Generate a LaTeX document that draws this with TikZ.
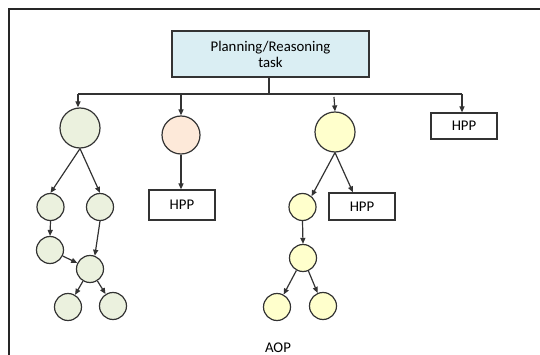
\documentclass[tikz,border=0pt]{standalone}
\usepackage{fontspec}
\setmainfont{Carlito}
\usetikzlibrary{arrows.meta,calc}
\definecolor{taskblue}{HTML}{DAEEF3}
\definecolor{aopgreen}{HTML}{EBF1DE}
\definecolor{aoppink}{HTML}{FDE9D9}
\definecolor{aopyellow}{HTML}{FFFFCC}
\definecolor{edgegray}{HTML}{333333}
\begin{document}
\begin{tikzpicture}[x=1pt,y=-1pt,line width=1.2pt,
  font=\fontsize{14.8}{16}\selectfont,
  arr/.style={-{Triangle[length=6pt,width=5pt]},draw=edgegray},
  state/.style={circle,draw=edgegray,inner sep=0pt,minimum size=27pt},
  bigstate/.style={state,minimum size=40pt},
  hpp/.style={rectangle,draw=edgegray,fill=white,minimum width=66pt,minimum height=28pt,inner sep=0pt}]
\useasboundingbox (0,0) rectangle (540,355);
% frame
\draw[line width=1.8pt,draw=black!85] (9,355) -- (9,9) -- (540,9);
% task
\node[rectangle,draw=edgegray,fill=taskblue,minimum width=197pt,minimum height=46pt,align=center,inner sep=0pt] (task) at (270.5,54) {Planning/Reasoning\\task};
\coordinate (bus) at (269,94);
\coordinate (busl) at (78,94);
\coordinate (busr) at (462,94);
\draw[draw=edgegray] (task.south -| bus) -- (bus);
\draw[draw=edgegray] (busl) -- (busr);
% green tree
\node[bigstate,fill=aopgreen] (g0) at (80,128) {};
\node[state,fill=aopgreen] (g1) at (50.5,207) {};
\node[state,fill=aopgreen] (g2) at (100,207) {};
\node[state,fill=aopgreen] (g3) at (50,250) {};
\node[state,fill=aopgreen] (g4) at (90,269) {};
\node[state,fill=aopgreen] (g5) at (68,307) {};
\node[state,fill=aopgreen] (g6) at (113,306) {};
% pink
\node[state,minimum size=38pt,fill=aoppink] (p0) at (181,135) {};
\node[hpp,minimum height=30pt] (hppA) at (182,205) {HPP};
% yellow tree
\node[bigstate,fill=aopyellow] (y0) at (335,132) {};
\node[state,fill=aopyellow] (y1) at (302.5,207) {};
\node[hpp,minimum height=27pt] (hppB) at (362,206.5) {HPP};
\node[state,fill=aopyellow] (y2) at (303,258) {};
\node[state,fill=aopyellow] (y3) at (277,307) {};
\node[state,fill=aopyellow] (y4) at (323,306) {};
% right
\node[hpp,minimum height=26pt] (hppC) at (464,126) {HPP};
\coordinate (ytop) at (334,97);
% arrows
\draw[arr] (busl) -- (busl |- g0.north);
\draw[arr] (busl -| p0) -- (p0.north);
\draw[arr] (busr) -- (busr |- hppC.north);
\draw[arr] (ytop) -- (y0.north);
\draw[arr] (g0.south) -- (g1.north);
\draw[arr] (g0.south) -- (g2.north);
\draw[arr] (g1.south) -- (g3.north);
\draw[arr] (g2.south) -- (g4.70);
\draw[arr] (g3) -- (g4);
\draw[arr] (g4) -- (g5);
\draw[arr] (g4) -- (g6);
\draw[arr] (p0.south) -- (hppA.north -| p0);
\draw[arr] (y0.south) -- (y1.50);
\draw[arr] (y0.south) -- ($(hppB.north)+(-9,0)$);
\draw[arr] (y1.south) -- (y2.north);
\draw[arr] (y2) -- (y3);
\draw[arr] (y2) -- (y4);
\node (aop) at (278,348) {AOP};
\end{tikzpicture}
\end{document}
